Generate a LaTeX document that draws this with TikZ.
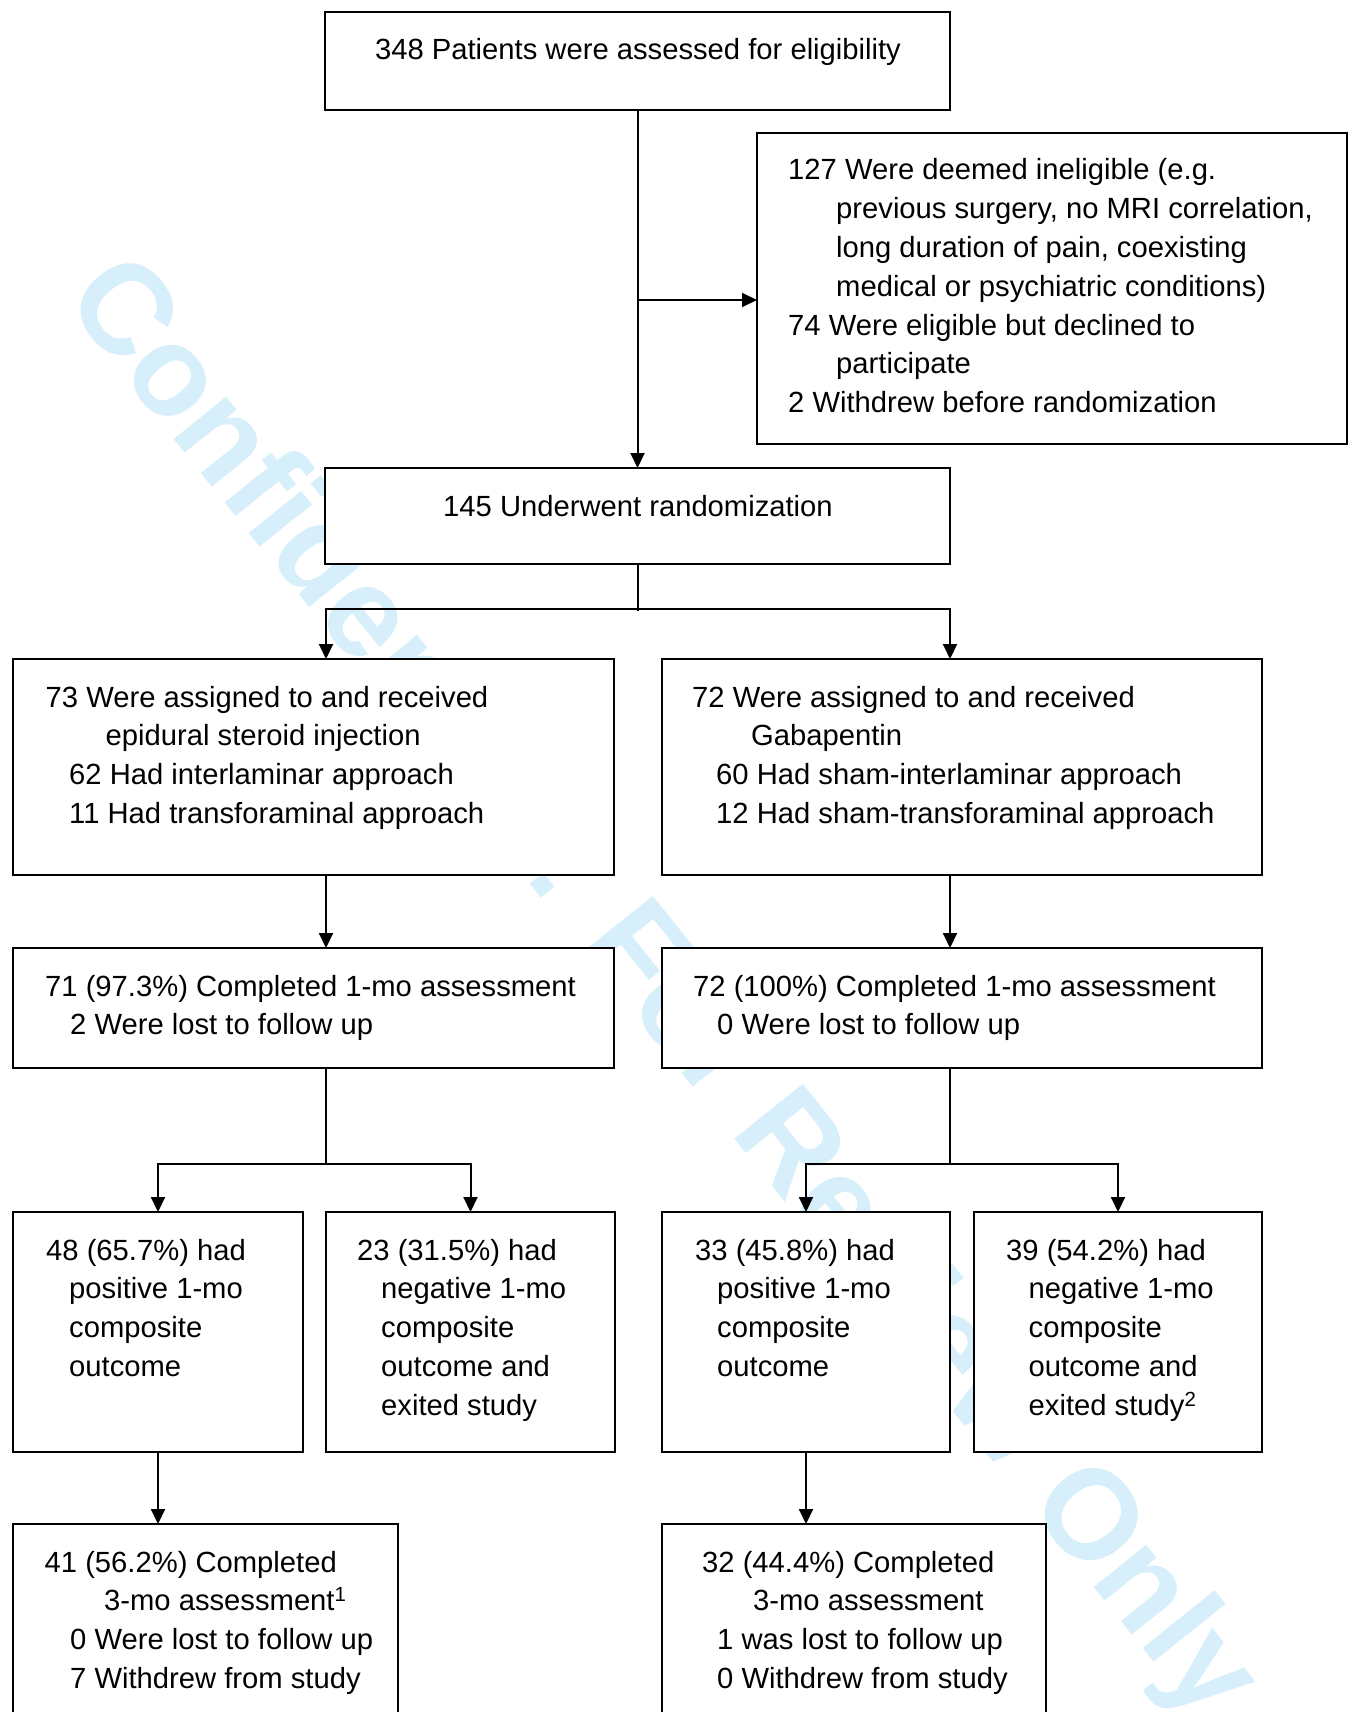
\documentclass[tikz,border=0pt]{standalone}
\usepackage{fontspec}
\setmainfont{Liberation Sans}
\usetikzlibrary{arrows.meta}
\definecolor{wm}{RGB}{214,239,251}
\begin{document}
\begin{tikzpicture}[x=1pt,y=-1pt,
  bx/.style={draw, line width=2pt, fill=white, inner sep=0pt, outer sep=0pt, anchor=north west},
  txt/.style={inner sep=0pt, anchor=base west, font=\fontsize{29.2}{38.8}\selectfont},
  arr/.style={line width=2pt, -{Triangle[length=15pt,width=14pt]}},
  ln/.style={line width=2pt}]
\path[use as bounding box, clip] (0,0) rectangle (1349,1712);
\fill[white] (0,0) rectangle (1349,1712);
% watermark
\node[rotate=-51.3, anchor=base, text=wm, inner sep=0pt, font=\fontsize{127.5}{127.5}\selectfont\bfseries] (wmk) at (633,1012) {Confidential: For Review Only};
% boxes
\node[bx, minimum width=625pt, minimum height=98pt] (top) at (325,12) {};
\node[bx, minimum width=590pt, minimum height=311pt] (inel) at (757,133) {};
\node[bx, minimum width=625pt, minimum height=96pt] (rand) at (325,468) {};
\node[bx, minimum width=601pt, minimum height=216pt] (b1L) at (13,659) {};
\node[bx, minimum width=600pt, minimum height=216pt] (b1R) at (662,659) {};
\node[bx, minimum width=601pt, minimum height=120pt] (b2L) at (13,948) {};
\node[bx, minimum width=600pt, minimum height=120pt] (b2R) at (662,948) {};
\node[bx, minimum width=290pt, minimum height=240pt] (b3a) at (13,1212) {};
\node[bx, minimum width=289pt, minimum height=240pt] (b3b) at (326,1212) {};
\node[bx, minimum width=288pt, minimum height=240pt] (b3c) at (662,1212) {};
\node[bx, minimum width=288pt, minimum height=240pt] (b3d) at (974,1212) {};
\node[bx, minimum width=385pt, minimum height=260pt] (b4L) at (13,1524) {};
\node[bx, minimum width=384pt, minimum height=260pt] (b4R) at (662,1524) {};
% connectors
\draw[arr] (top.south) -- (rand.north);
\coordinate (j1) at (637.5,300);
\draw[arr] (j1) -- (j1 -| inel.west);
\coordinate (s1) at (637.5,611);
\coordinate (aL) at (326,609);
\coordinate (aR) at (950,609);
\draw[ln] (rand.south) -- (s1);
\draw[arr] (s1 |- aL) -| (b1L.north -| aL);
\draw[arr] (s1 |- aR) -| (b1R.north -| aR);
\draw[arr] (b1L.south -| aL) -- (b2L.north -| aL);
\draw[arr] (b1R.south -| aR) -- (b2R.north -| aR);
\coordinate (s2) at (326,1164);
\coordinate (s3) at (950,1164);
\draw[ln] (b2L.south -| s2) -- (s2);
\draw[arr] (s2) -| (b3a.north);
\draw[arr] (s2) -| (b3b.north);
\draw[ln] (b2R.south -| s3) -- (s3);
\draw[arr] (s3) -| (b3c.north);
\draw[arr] (s3) -| (b3d.north);
\draw[arr] (b3a.south) -- (b3a.south |- b4L.north);
\draw[arr] (b3c.south) -- (b3c.south |- b4R.north);
% texts
\node[txt, anchor=base] (topt) at (638,60) {348 Patients were assessed for eligibility};
\node[txt] (inelt) at (788,180) {\begin{tabular}[t]{@{}l@{}}127 Were deemed ineligible (e.g.\\\hspace*{48pt}previous surgery, no MRI correlation,\\\hspace*{48pt}long duration of pain, coexisting\\\hspace*{48pt}medical or psychiatric conditions)\\74 Were eligible but declined to\\\hspace*{48pt}participate\\2 Withdrew before randomization\end{tabular}};
\node[txt, anchor=base] (randt) at (638,516) {145 Underwent randomization};
\node[txt] (b1Lt) at (45.5,707) {\begin{tabular}[t]{@{}l@{}}73 Were assigned to and received\\\hspace*{60pt}epidural steroid injection\\\hspace*{23.5pt}62 Had interlaminar approach\\\hspace*{23.5pt}11 Had transforaminal approach\end{tabular}};
\node[txt] (b1Rt) at (692,707) {\begin{tabular}[t]{@{}l@{}}72 Were assigned to and received\\\hspace*{59pt}Gabapentin\\\hspace*{24pt}60 Had sham-interlaminar approach\\\hspace*{24pt}12 Had sham-transforaminal approach\end{tabular}};
\node[txt] (b2Lt) at (45,996) {\begin{tabular}[t]{@{}l@{}}71 (97.3\%) Completed 1-mo assessment\\\hspace*{25pt}2 Were lost to follow up\end{tabular}};
\node[txt] (b2Rt) at (693,996) {\begin{tabular}[t]{@{}l@{}}72 (100\%) Completed 1-mo assessment\\\hspace*{24pt}0 Were lost to follow up\end{tabular}};
\node[txt] (b3at) at (46,1260) {\begin{tabular}[t]{@{}l@{}}48 (65.7\%) had\\\hspace*{23pt}positive 1-mo\\\hspace*{23pt}composite\\\hspace*{23pt}outcome\end{tabular}};
\node[txt] (b3bt) at (357,1260) {\begin{tabular}[t]{@{}l@{}}23 (31.5\%) had\\\hspace*{24pt}negative 1-mo\\\hspace*{24pt}composite\\\hspace*{24pt}outcome and\\\hspace*{24pt}exited study\end{tabular}};
\node[txt] (b3ct) at (695,1260) {\begin{tabular}[t]{@{}l@{}}33 (45.8\%) had\\\hspace*{22pt}positive 1-mo\\\hspace*{22pt}composite\\\hspace*{22pt}outcome\end{tabular}};
\node[txt] (b3dt) at (1006,1260) {\begin{tabular}[t]{@{}l@{}}39 (54.2\%) had\\\hspace*{22.5pt}negative 1-mo\\\hspace*{22.5pt}composite\\\hspace*{22.5pt}outcome and\\\hspace*{22.5pt}exited study\textsuperscript{2}\end{tabular}};
\node[txt] (b4Lt) at (44.5,1572) {\begin{tabular}[t]{@{}l@{}}41 (56.2\%) Completed\\\hspace*{59.5pt}3-mo assessment\textsuperscript{1}\\\hspace*{25.5pt}0 Were lost to follow up\\\hspace*{25.5pt}7 Withdrew from study\end{tabular}};
\node[txt] (b4Rt) at (702,1572) {\begin{tabular}[t]{@{}l@{}}32 (44.4\%) Completed\\\hspace*{51pt}3-mo assessment\\\hspace*{15pt}1 was lost to follow up\\\hspace*{15pt}0 Withdrew from study\end{tabular}};
\end{tikzpicture}
\end{document}
